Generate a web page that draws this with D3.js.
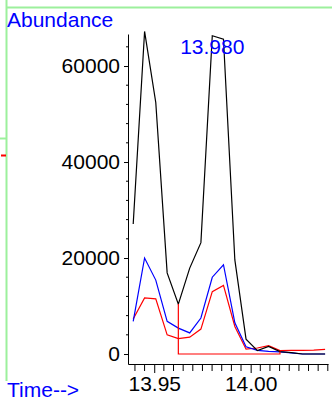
<!DOCTYPE html>
<html><head><meta charset="utf-8">
<script src="https://cdn.jsdelivr.net/npm/d3@7"></script>
<style>
html,body{margin:0;padding:0;background:#fff;}
svg{display:block;}
text{font-family:"Liberation Sans",Arial,sans-serif;}
</style></head>
<body>
<svg id="chart" width="332" height="402"></svg>
<script>
const times = [13.9391, 13.9450, 13.9508, 13.9567, 13.9625, 13.9684, 13.9742, 13.9801, 13.9859, 13.9918, 13.9976, 14.0035, 14.0093, 14.0152, 14.0210, 14.0269, 14.0327, 14.0386];
const tic   = [27100, 67200, 52400, 16900, 10400, 17900, 23200, 66300, 65600, 19600, 3100, 700, 1600, 500, 300, 0, 0, 0];
const ion1  = [6800, 20000, 15400, 6800, 5400, 4400, 7500, 16000, 18600, 6500, 1500, 750, 550, 450, 250, 0, 0, 0];
const ion2  = [7300, 11700, 11500, 4000, 3200, 3500, 5200, 13000, 14300, 5750, 1000, 1250, 1750, 700, 750, 750, 800, 950];
const yTicks = [0, 20000, 40000, 60000];
const xTicks = [13.95, 14.00];
const peakLabel = "13.980";
const peakTime = 13.9801;
const integStart = 4, integEnd = 13;

const FS = 21;
const svg = d3.select("#chart");
const x = d3.scaleLinear().domain([13.9364, 14.0401]).range([128, 328]);
const y = d3.scaleLinear().domain([-2080, 66670]).range([364, 34]);

// frame decorations
const green = "#9cf09c";
svg.append("line").attr("x1",6.5).attr("x2",6.5).attr("y1",0).attr("y2",381).attr("stroke",green).attr("stroke-width",2);
svg.append("line").attr("x1",6).attr("x2",332).attr("y1",7.5).attr("y2",7.5).attr("stroke",green).attr("stroke-width",2);
svg.append("line").attr("x1",0).attr("x2",6).attr("y1",138.5).attr("y2",138.5).attr("stroke",green).attr("stroke-width",2);
svg.append("line").attr("x1",1).attr("x2",6).attr("y1",155.5).attr("y2",155.5).attr("stroke","#ff0000").attr("stroke-width",2);

// y axis
const yMinor = d3.range(4000, 66001, 4000).filter(v => v % 20000 !== 0);
const yAx = svg.append("g").attr("transform","translate(128,0)");
yAx.call(d3.axisLeft(y).tickValues(yTicks).tickSize(4).tickPadding(4).tickSizeOuter(0).tickFormat(d3.format("d")));
yAx.append("g").selectAll("line").data(yMinor).join("line")
  .attr("x1",-2).attr("x2",0).attr("y1",d=>y(d)).attr("y2",d=>y(d)).attr("stroke","#000");
yAx.selectAll("text").attr("font-size",FS).attr("font-family","Liberation Sans, Arial, sans-serif").attr("fill","#000");

// x axis
const xMinor = d3.range(13.94, 14.0405, 0.005).filter(v => !xTicks.some(t => Math.abs(t - v) < 1e-6));
const xAx = svg.append("g").attr("transform","translate(0,364)");
xAx.call(d3.axisBottom(x).tickValues(xTicks).tickSize(9).tickPadding(3).tickSizeOuter(0).tickFormat(d3.format(".2f")));
xAx.append("g").selectAll("line").data(xMinor).join("line")
  .attr("x1",d=>x(d)).attr("x2",d=>x(d)).attr("y1",0).attr("y2",7).attr("stroke","#000");
xAx.selectAll("text").attr("font-size",FS).attr("font-family","Liberation Sans, Arial, sans-serif").attr("fill","#000");
svg.selectAll(".domain").attr("stroke","#000");

// series
const line = vals => d3.line().x((d,i)=>x(times[i])).y(d=>y(d))(vals);
svg.append("path").attr("d", line(ion2)).attr("fill","none").attr("stroke","#ff0000").attr("stroke-width",1.2);
svg.append("path").attr("d", line(ion1)).attr("fill","none").attr("stroke","#0000ff").attr("stroke-width",1.2);
svg.append("path").attr("d", line(tic)).attr("fill","none").attr("stroke","#000").attr("stroke-width",1.2);

// integration baseline
const integ = [[times[integStart], tic[integStart]],[times[integStart],0],[times[integEnd],0],[times[integEnd],tic[integEnd]]];
svg.append("path").attr("d", d3.line().x(d=>x(d[0])).y(d=>y(d[1]))(integ))
  .attr("fill","none").attr("stroke","#ff0000").attr("stroke-width",1.2);

// labels
svg.append("text").attr("x",7).attr("y",27).attr("font-size",FS).attr("fill","#0000ff").text("Abundance");
svg.append("text").attr("x",7).attr("y",397).attr("font-size",FS).attr("fill","#0000ff").text("Time-->");
svg.append("text").attr("x",x(peakTime)).attr("y",54).attr("text-anchor","middle").attr("font-size",FS).attr("fill","#0000ff").text(peakLabel);
</script>
</body></html>
